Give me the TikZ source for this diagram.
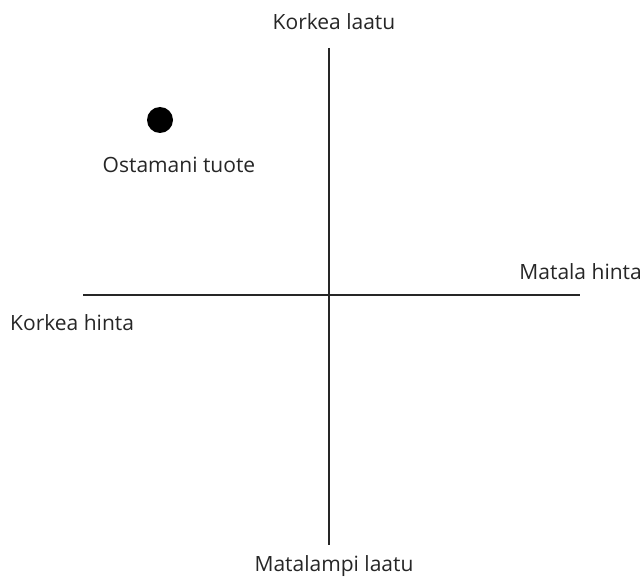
\documentclass[tikz,border=0pt]{standalone}
\usepackage{fontspec}
\setmainfont{Open Sans}
\begin{document}
\begin{tikzpicture}[x=1pt,y=-1pt,
  axis/.style={line width=1.3pt,black!85},
  lbl/.style={font=\fontsize{21}{25}\selectfont,inner sep=0pt,text=black!85}]
\useasboundingbox (0,0) rectangle (644,580);
\coordinate (vt) at (329,48);
\coordinate (vb) at (329,545);
\coordinate (hl) at (83,295);
\coordinate (hr) at (580,295);
\draw[axis] (vt) -- (vb);
\draw[axis] (hl) -- (hr);
\fill (160,120) circle (13);
\node[lbl] (kl) at (334,22) {Korkea laatu};
\node[lbl] (ml) at (334,566) {Matalampi laatu};
\node[lbl,anchor=east] (mh) at (642,272) {Matala hinta};
\node[lbl,anchor=west] (kh) at (10,323) {Korkea hinta};
\node[lbl] (ot) at (179,165) {Ostamani tuote};
\end{tikzpicture}
\end{document}
